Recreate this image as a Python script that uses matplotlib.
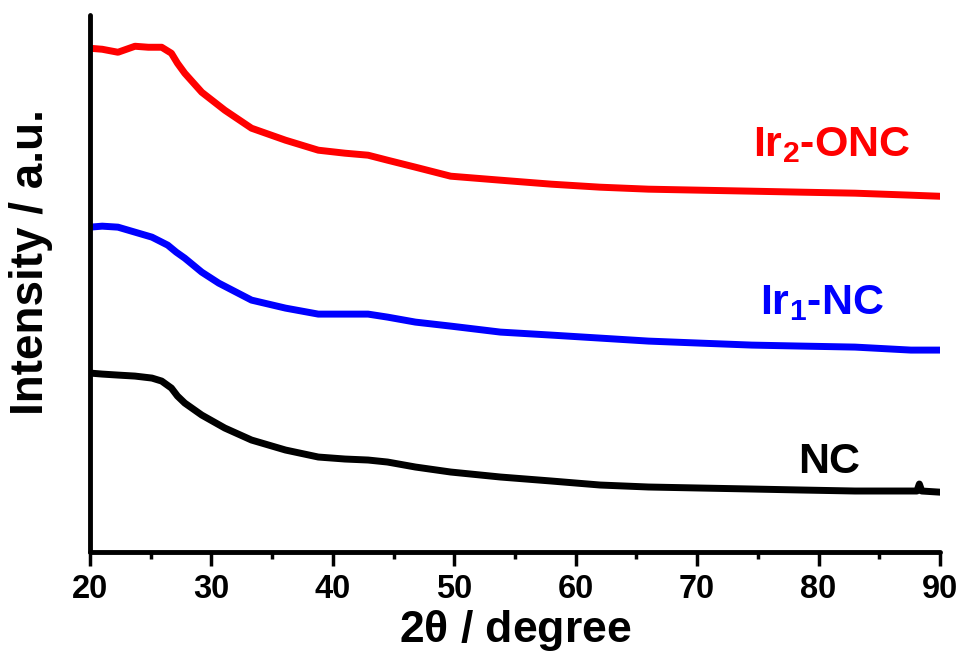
import numpy as np
import matplotlib
matplotlib.use('agg')
import matplotlib.pyplot as plt
from matplotlib.ticker import MultipleLocator

# XRD patterns (2theta in degree, intensity in a.u.)
x_onc = [20.0, 21.0, 22.3, 23.7, 24.8, 25.9, 26.7, 27.2, 27.8, 29.2, 31.1,
         33.3, 36.1, 38.8, 41.0, 42.9, 44.5, 46.8, 49.7, 53.8, 58.0, 62.0,
         66.0, 70.2, 74.5, 78.6, 83.0, 87.6, 89.8]
y_onc = [504, 503, 500, 506, 505, 505, 499, 489, 479, 460, 442,
         424, 412, 402, 399, 397, 392, 385, 376, 372, 368, 365,
         363, 362, 361, 360, 359, 357, 356]

x_ir1 = [20.0, 21.0, 22.3, 23.7, 25.1, 26.4, 27.1, 27.8, 29.2, 30.6, 33.3,
         36.1, 38.8, 41.0, 42.9, 44.5, 46.8, 49.7, 53.8, 58.0, 62.0, 66.0,
         70.2, 74.5, 78.6, 83.0, 87.6, 89.8]
y_ir1 = [325, 326, 325, 320, 315, 307, 300, 294, 280, 269, 252,
         244, 238, 238, 238, 235, 230, 226, 220, 217, 214, 211,
         209, 207, 206, 205, 202, 202]

x_nc = [20.0, 21.0, 22.3, 23.7, 25.1, 25.9, 26.7, 27.2, 27.8, 29.2, 31.1,
        33.3, 36.1, 38.8, 41.0, 42.9, 44.5, 46.8, 49.7, 53.8, 58.0, 62.0,
        66.0, 70.2, 74.5, 78.6, 83.0, 86.0, 88.1, 88.3, 88.5, 89.8]
y_nc = [179, 178, 177, 176, 174, 171, 164, 156, 149, 137, 124,
        112, 102, 95, 93, 92, 90, 85, 80, 75, 71, 67,
        65, 64, 63, 62, 61, 61, 61, 68, 61, 60]

labels = ['NC', 'Ir$_1$-NC', 'Ir$_2$-ONC']
colors = ['black', 'blue', 'red']

plt.rcParams['font.family'] = 'Liberation Sans'
plt.rcParams['font.weight'] = 'bold'
plt.rcParams['mathtext.fontset'] = 'custom'
plt.rcParams['mathtext.rm'] = 'Liberation Sans:bold'
plt.rcParams['mathtext.bf'] = 'Liberation Sans:bold'
plt.rcParams['mathtext.it'] = 'Liberation Serif:bold'
plt.rcParams['mathtext.default'] = 'rm'

fig = plt.figure(figsize=[9.63, 6.64], dpi=100)
ax = fig.add_axes([0.0935, 0.1687, 0.8826, 0.8083])

lw = 5
ax.plot(x_nc, y_nc, '-', color=colors[0], linewidth=lw)
ax.plot(x_ir1, y_ir1, '-', color=colors[1], linewidth=lw)
ax.plot(x_onc, y_onc, '-', color=colors[2], linewidth=lw)

fsize = 31
ax.text(80.9, 90, labels[0], color=colors[0], fontsize=fsize,
        fontweight='bold', ha='center', va='center')
ax.text(80.3, 249, labels[1], color=colors[1], fontsize=fsize,
        fontweight='bold', ha='center', va='center')
ax.text(81.1, 407, labels[2], color=colors[2], fontsize=fsize,
        fontweight='bold', ha='center', va='center')

ax.set_xlim(20, 90)
ax.set_ylim(0, 537)
ax.set_yticks([])
ax.xaxis.set_major_locator(MultipleLocator(10))
ax.xaxis.set_minor_locator(MultipleLocator(5))
ax.tick_params(axis='x', which='major', direction='out', length=10,
               width=2.5, labelsize=23.5, pad=6)
ax.tick_params(axis='x', which='minor', direction='out', length=5, width=2.5)
for lab in ax.get_xticklabels():
    lab.set_fontweight('bold')

for side in ['top', 'right']:
    ax.spines[side].set_visible(False)
for side in ['left', 'bottom']:
    ax.spines[side].set_linewidth(3.5)
    ax.spines[side].set_capstyle('round')

ax.set_xlabel(r'2$\theta$ / degree', fontsize=32, fontweight='bold', labelpad=2)
ax.set_ylabel('Intensity / a.u.', fontsize=33, fontweight='bold')
ax.yaxis.set_label_coords(-0.044, 0.54)

plt.savefig('out.png', dpi=100)
